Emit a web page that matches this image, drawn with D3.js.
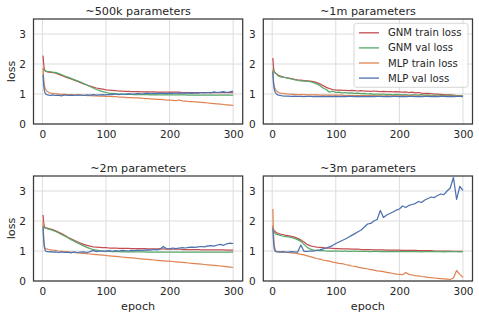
<!DOCTYPE html>
<html>
<head>
<meta charset="utf-8">
<script src="https://cdn.jsdelivr.net/npm/d3@7/dist/d3.min.js"></script>
<style>
    body { margin: 0; background: #fff; }
    text { font-family: "DejaVu Sans", sans-serif; fill: #262626; }
</style>
</head>
<body>
<svg id="chart" width="479" height="314"></svg>
<script>
const epochs = [1, 2, 3, 4, 5, 6, 8, 10, 13, 16, 20,
    25, 30, 35, 40, 45, 50, 55, 60,
    65, 70, 75, 80, 85, 90, 95, 100,
    105, 110, 115, 120, 125, 130, 135, 140,
    145, 150, 155, 160, 165, 170, 175, 180,
    185, 190, 195, 200, 205, 210, 215, 220,
    225, 230, 235, 240, 245, 250, 255, 260,
    265, 270, 275, 280, 285, 290, 295, 300];

const titles = ["~500k parameters", "~1m parameters", "~2m parameters", "~3m parameters"];
const seriesNames = ["GNM train loss", "GNM val loss", "MLP train loss", "MLP val loss"];
const xTicks = [0, 100, 200, 300];
const yTicks = [0, 1, 2, 3];

// ~500k
const gnmTrain500k = [2.28, 2.0, 1.82, 1.78, 1.76, 1.75, 1.74, 1.73, 1.72, 1.71, 1.70,
    1.66, 1.62, 1.58, 1.54, 1.50, 1.46, 1.42, 1.38,
    1.34, 1.30, 1.26, 1.23, 1.20, 1.18, 1.16, 1.14,
    1.13, 1.12, 1.11, 1.10, 1.10, 1.09, 1.09, 1.08,
    1.08, 1.08, 1.07, 1.07, 1.07, 1.07, 1.07, 1.06,
    1.06, 1.06, 1.06, 1.06, 1.06, 1.06, 1.06, 1.05,
    1.05, 1.05, 1.05, 1.05, 1.05, 1.05, 1.05, 1.05,
    1.05, 1.05, 1.05, 1.05, 1.05, 1.05, 1.05, 1.05];
const gnmVal500k = [1.85, 1.80, 1.79, 1.78, 1.77, 1.76, 1.75, 1.75, 1.74, 1.73, 1.72,
    1.69, 1.65, 1.60, 1.56, 1.52, 1.48, 1.44, 1.40,
    1.35, 1.30, 1.25, 1.20, 1.15, 1.11, 1.08, 1.05,
    1.03, 1.02, 1.01, 1.00, 1.00, 0.99, 0.99, 0.99,
    0.98, 0.98, 0.98, 0.98, 0.98, 0.97, 0.97, 0.97,
    0.97, 0.97, 0.97, 0.97, 0.97, 0.97, 0.97, 0.97,
    0.97, 0.96, 0.96, 0.96, 0.96, 0.96, 0.96, 0.96,
    0.96, 0.96, 0.96, 0.96, 0.96, 0.96, 0.96, 0.96];
const mlpTrain500k = [1.85, 1.50, 1.30, 1.20, 1.15, 1.12, 1.08, 1.05, 1.03, 1.02, 1.01,
    1.00, 0.99, 0.99, 0.98, 0.98, 0.97, 0.97, 0.96,
    0.96, 0.95, 0.95, 0.94, 0.94, 0.93, 0.93, 0.92,
    0.92, 0.91, 0.91, 0.90, 0.90, 0.89, 0.88, 0.88,
    0.87, 0.87, 0.86, 0.85, 0.85, 0.84, 0.83, 0.82,
    0.82, 0.81, 0.80, 0.80, 0.79, 0.78, 0.80, 0.77,
    0.76, 0.75, 0.75, 0.74, 0.73, 0.72, 0.71, 0.70,
    0.69, 0.68, 0.67, 0.66, 0.65, 0.64, 0.63, 0.62];
const mlpVal500k = [1.65, 1.30, 1.12, 1.05, 1.01, 0.99, 0.97, 0.96, 0.95, 0.97, 0.95,
    0.96, 0.94, 0.97, 0.95, 0.96, 0.95, 0.97, 0.96,
    0.95, 0.97, 0.96, 0.98, 0.96, 0.97, 0.98, 0.97,
    0.99, 0.98, 1.00, 0.98, 1.00, 0.99, 1.01, 1.00,
    1.00, 1.02, 1.00, 1.01, 1.03, 1.01, 1.02, 1.01,
    1.03, 1.02, 1.01, 1.03, 1.02, 1.04, 1.02, 1.03,
    1.03, 1.04, 1.02, 1.04, 1.03, 1.05, 1.04, 1.05,
    1.04, 1.07, 1.05, 1.06, 1.08, 1.05, 1.07, 1.10];

// ~1m
const gnmTrain1m = [2.20, 1.90, 1.76, 1.72, 1.70, 1.68, 1.65, 1.62, 1.60, 1.57, 1.55,
    1.53, 1.51, 1.49, 1.47, 1.46, 1.45, 1.44, 1.43,
    1.41, 1.38, 1.34, 1.28, 1.22, 1.18, 1.15, 1.13,
    1.13, 1.12, 1.12, 1.11, 1.12, 1.11, 1.10, 1.11,
    1.10, 1.10, 1.09, 1.10, 1.09, 1.08, 1.09, 1.08,
    1.08, 1.07, 1.08, 1.07, 1.06, 1.07, 1.05, 1.06,
    1.04, 1.05, 1.03, 1.02, 1.02, 1.01, 1.00, 1.00,
    0.99, 0.98, 0.97, 0.97, 0.96, 0.95, 0.94, 0.93];
const gnmVal1m = [1.85, 1.78, 1.74, 1.72, 1.70, 1.68, 1.64, 1.60, 1.57, 1.56, 1.55,
    1.53, 1.50, 1.48, 1.45, 1.44, 1.43, 1.42, 1.41,
    1.38, 1.34, 1.28, 1.20, 1.15, 1.06, 1.10, 1.05,
    1.06, 1.04, 1.05, 1.03, 1.04, 1.02, 1.03, 1.01,
    1.02, 1.00, 1.01, 0.99, 1.00, 0.99, 1.00, 0.98,
    0.99, 0.97, 0.99, 0.98, 0.97, 0.98, 0.96, 0.97,
    0.97, 0.96, 0.98, 0.96, 0.97, 0.95, 0.96, 0.97,
    0.95, 0.96, 0.95, 0.96, 0.95, 0.94, 0.95, 0.95];
const mlpTrain1m = [1.80, 1.45, 1.28, 1.20, 1.15, 1.12, 1.08, 1.05, 1.03, 1.02, 1.01,
    1.00, 0.99, 0.99, 0.98, 0.98, 0.98, 0.97, 0.97,
    0.97, 0.97, 0.96, 0.96, 0.96, 0.96, 0.96, 0.96,
    0.96, 0.96, 0.95, 0.95, 0.95, 0.95, 0.95, 0.95,
    0.95, 0.95, 0.95, 0.95, 0.94, 0.94, 0.94, 0.94,
    0.94, 0.94, 0.94, 0.94, 0.94, 0.94, 0.94, 0.94,
    0.93, 0.93, 0.93, 0.93, 0.93, 0.93, 0.93, 0.93,
    0.93, 0.93, 0.93, 0.93, 0.93, 0.93, 0.93, 0.93];
const mlpVal1m = [1.75, 1.35, 1.18, 1.10, 1.05, 1.02, 0.98, 0.96, 0.95, 0.94, 0.93,
    0.93, 0.92, 0.93, 0.92, 0.92, 0.91, 0.92, 0.92,
    0.91, 0.92, 0.91, 0.92, 0.91, 0.92, 0.91, 0.92,
    0.91, 0.92, 0.91, 0.92, 0.92, 0.91, 0.92, 0.91,
    0.92, 0.91, 0.92, 0.91, 0.92, 0.92, 0.91, 0.92,
    0.91, 0.92, 0.92, 0.91, 0.92, 0.91, 0.92, 0.92,
    0.91, 0.92, 0.91, 0.92, 0.92, 0.91, 0.92, 0.91,
    0.92, 0.92, 0.91, 0.92, 0.91, 0.92, 0.92, 0.91];

// ~2m
const gnmTrain2m = [2.20, 1.95, 1.82, 1.79, 1.78, 1.77, 1.76, 1.75, 1.73, 1.71, 1.68,
    1.63, 1.58, 1.52, 1.46, 1.41, 1.36, 1.31, 1.26,
    1.22, 1.19, 1.16, 1.14, 1.13, 1.12, 1.11, 1.11,
    1.10, 1.10, 1.10, 1.09, 1.09, 1.09, 1.09, 1.08,
    1.08, 1.08, 1.08, 1.08, 1.07, 1.07, 1.07, 1.07,
    1.07, 1.07, 1.06, 1.06, 1.06, 1.06, 1.06, 1.05,
    1.05, 1.05, 1.05, 1.05, 1.05, 1.04, 1.04, 1.04,
    1.04, 1.04, 1.04, 1.04, 1.04, 1.03, 1.03, 1.03];
const gnmVal2m = [1.85, 1.80, 1.78, 1.77, 1.76, 1.75, 1.74, 1.73, 1.71, 1.69, 1.66,
    1.61, 1.55, 1.50, 1.44, 1.38, 1.33, 1.27, 1.22,
    1.17, 1.12, 1.08, 1.05, 1.03, 1.01, 1.00, 0.99,
    0.99, 0.98, 0.98, 0.98, 0.97, 0.97, 0.97, 0.97,
    0.97, 0.97, 0.97, 0.97, 0.96, 0.96, 0.96, 0.96,
    0.96, 0.96, 0.96, 0.96, 0.96, 0.96, 0.96, 0.96,
    0.96, 0.96, 0.96, 0.96, 0.96, 0.96, 0.96, 0.96,
    0.96, 0.96, 0.96, 0.96, 0.96, 0.96, 0.96, 0.96];
const mlpTrain2m = [2.00, 1.40, 1.15, 1.10, 1.08, 1.07, 1.06, 1.05, 1.04, 1.03, 1.02,
    1.00, 0.99, 0.98, 0.97, 0.96, 0.95, 0.94, 0.93,
    0.92, 0.91, 0.90, 0.89, 0.88, 0.87, 0.86, 0.85,
    0.84, 0.83, 0.82, 0.81, 0.80, 0.79, 0.78, 0.77,
    0.76, 0.75, 0.74, 0.73, 0.72, 0.71, 0.70, 0.69,
    0.68, 0.67, 0.66, 0.66, 0.65, 0.64, 0.63, 0.62,
    0.61, 0.60, 0.59, 0.58, 0.57, 0.56, 0.55, 0.54,
    0.53, 0.52, 0.51, 0.50, 0.49, 0.48, 0.46, 0.45];
const mlpVal2m = [1.80, 1.40, 1.15, 1.05, 1.00, 0.99, 0.98, 0.97, 0.98, 0.96, 0.97,
    0.95, 0.97, 0.95, 0.96, 0.94, 0.97, 0.95, 0.96,
    0.97, 0.95, 0.98, 1.02, 0.98, 1.00, 0.99, 1.00,
    1.01, 0.99, 1.01, 1.00, 1.02, 1.01, 1.00, 1.02,
    1.01, 1.03, 1.02, 1.03, 1.04, 1.03, 1.05, 1.04,
    1.06, 1.15, 1.08, 1.07, 1.10, 1.08, 1.10, 1.11,
    1.10, 1.12, 1.13, 1.12, 1.14, 1.15, 1.14, 1.17,
    1.18, 1.16, 1.20, 1.22, 1.19, 1.24, 1.26, 1.25];

// ~3m
const gnmTrain3m = [1.85, 1.72, 1.68, 1.66, 1.64, 1.62, 1.60, 1.58, 1.56, 1.55, 1.53,
    1.51, 1.49, 1.46, 1.42, 1.37, 1.30, 1.22, 1.17,
    1.15, 1.13, 1.12, 1.11, 1.10, 1.10, 1.09, 1.08,
    1.08, 1.07, 1.07, 1.07, 1.06, 1.06, 1.06, 1.05,
    1.05, 1.05, 1.05, 1.04, 1.04, 1.04, 1.04, 1.03,
    1.03, 1.03, 1.03, 1.03, 1.02, 1.02, 1.02, 1.02,
    1.02, 1.01, 1.01, 1.01, 1.01, 1.01, 1.00, 1.00,
    1.00, 1.00, 1.00, 1.00, 0.99, 0.99, 0.99, 0.99];
const gnmVal3m = [1.80, 1.68, 1.62, 1.60, 1.58, 1.56, 1.55, 1.54, 1.52, 1.50, 1.49,
    1.47, 1.45, 1.42, 1.38, 1.32, 1.22, 1.12, 1.06,
    1.03, 1.02, 1.01, 1.01, 1.00, 1.00, 1.00, 1.00,
    1.00, 0.99, 1.00, 0.99, 0.99, 1.00, 0.99, 0.99,
    0.99, 0.99, 0.98, 0.99, 0.99, 0.98, 0.99, 0.98,
    0.98, 0.99, 0.98, 0.98, 0.98, 0.99, 0.98, 0.98,
    0.98, 0.98, 0.97, 0.98, 0.98, 0.98, 0.99, 0.98,
    0.98, 0.97, 0.98, 0.98, 0.98, 0.98, 0.97, 0.98];
const mlpTrain3m = [2.40, 1.60, 1.25, 1.10, 1.03, 1.00, 0.98, 0.97, 0.97, 0.96, 0.96,
    0.95, 0.94, 0.93, 0.91, 0.89, 0.87, 0.84, 0.81,
    0.78, 0.75, 0.73, 0.70, 0.68, 0.66, 0.63, 0.61,
    0.59, 0.58, 0.55, 0.53, 0.50, 0.49, 0.46, 0.44,
    0.42, 0.40, 0.38, 0.36, 0.34, 0.33, 0.31, 0.29,
    0.27, 0.25, 0.23, 0.22, 0.21, 0.28, 0.22, 0.20,
    0.18, 0.17, 0.15, 0.14, 0.12, 0.11, 0.10, 0.09,
    0.08, 0.07, 0.06, 0.05, 0.10, 0.35, 0.22, 0.12];
const mlpVal3m = [1.75, 1.35, 1.10, 1.02, 0.99, 0.98, 0.97, 0.97, 0.96, 0.98, 0.97,
    0.96, 0.98, 0.97, 0.96, 1.20, 0.99, 0.99, 1.00,
    1.00, 1.02, 1.04, 1.07, 1.10, 1.14, 1.18, 1.25,
    1.30, 1.35, 1.40, 1.46, 1.52, 1.58, 1.64, 1.70,
    1.80, 1.90, 1.92, 2.00, 2.05, 2.35, 2.12, 2.20,
    2.25, 2.30, 2.36, 2.40, 2.50, 2.45, 2.52, 2.55,
    2.58, 2.65, 2.62, 2.70, 2.75, 2.80, 2.78, 2.85,
    2.90, 2.88, 3.00, 3.10, 3.45, 2.72, 3.15, 3.02];

// seaborn "deep" colours, same order as seriesNames
const colors = ["#c44e52", "#55a868", "#dd8452", "#4c72b0"];

const panels = [
    {title: titles[0], series: [gnmTrain500k, gnmVal500k, mlpTrain500k, mlpVal500k]},
    {title: titles[1], series: [gnmTrain1m, gnmVal1m, mlpTrain1m, mlpVal1m]},
    {title: titles[2], series: [gnmTrain2m, gnmVal2m, mlpTrain2m, mlpVal2m]},
    {title: titles[3], series: [gnmTrain3m, gnmVal3m, mlpTrain3m, mlpVal3m]}
];

const svg = d3.select("#chart");
const colLeft = [33.5, 263.3];
const rowTop = [19, 176];
const plotW = 209.2, plotH = 105;

/**
 * Draw one subplot at the given grid position.
 */
function drawPanel(panel, i) {
    let col = i % 2, row = Math.floor(i / 2);
    let g = svg.append("g")
        .attr("transform", "translate(" + colLeft[col] + "," + rowTop[row] + ")");

    let x = d3.scaleLinear().domain([-14, 315]).range([0, plotW]);
    let y = d3.scaleLinear().domain([0, 3.5]).range([plotH, 0]);

    // grid
    g.append("g").selectAll("line").data(xTicks).join("line")
        .attr("x1", d => x(d)).attr("x2", d => x(d))
        .attr("y1", 0).attr("y2", plotH)
        .attr("stroke", "#dcdcdc").attr("stroke-width", 1);
    g.append("g").selectAll("line").data(yTicks).join("line")
        .attr("x1", 0).attr("x2", plotW)
        .attr("y1", d => y(d)).attr("y2", d => y(d))
        .attr("stroke", "#dcdcdc").attr("stroke-width", 1);

    let clipId = "clip" + i;
    g.append("clipPath").attr("id", clipId)
        .append("rect").attr("width", plotW).attr("height", plotH);

    let line = d3.line().x((d, k) => x(epochs[k])).y(d => y(d));
    g.append("g").attr("clip-path", "url(#" + clipId + ")")
        .selectAll("path").data(panel.series).join("path")
        .attr("d", line)
        .attr("fill", "none")
        .attr("stroke", (d, k) => colors[k])
        .attr("stroke-width", 1.25)
        .attr("stroke-linejoin", "round");

    // axes (labels only, no tick marks)
    let xAxis = g.append("g").attr("transform", "translate(0," + plotH + ")")
        .call(d3.axisBottom(x).tickValues(xTicks).tickSize(0).tickPadding(7));
    let yAxis = g.append("g")
        .call(d3.axisLeft(y).tickValues(yTicks).tickSize(0).tickPadding(7.5).tickFormat(d3.format("d")));
    [xAxis, yAxis].forEach(a => {
        a.select(".domain").remove();
        a.selectAll("text").style("font-size", "10.5px").style("font-family", "DejaVu Sans").attr("fill", "#262626");
    });

    // spines
    g.append("rect").attr("width", plotW).attr("height", plotH)
        .attr("fill", "none").attr("stroke", "#3a3a3a").attr("stroke-width", 1.25);

    g.append("text")
        .attr("x", plotW / 2).attr("y", -4.5)
        .attr("text-anchor", "middle")
        .style("font-size", "11.2px")
        .text(panel.title);

    if (col === 0) {
        g.append("text")
            .attr("transform", "translate(" + (10.7 - colLeft[0]) + "," + (plotH / 2) + ") rotate(-90)")
            .attr("text-anchor", "middle")
            .attr("dy", "0.35em")
            .style("font-size", "11.2px")
            .text("loss");
    }
    if (row === 1) {
        g.append("text")
            .attr("x", plotW / 2).attr("y", plotH + 29)
            .attr("text-anchor", "middle")
            .style("font-size", "11.2px")
            .text("epoch");
    }
    return g;
}

panels.forEach((p, i) => drawPanel(p, i));

// legend in the top right subplot
let legend = svg.append("g").attr("transform", "translate(354,23.3)");
legend.append("rect")
    .attr("width", 114).attr("height", 64).attr("rx", 2.5)
    .attr("fill", "#fff").attr("fill-opacity", 0.8)
    .attr("stroke", "#cccccc").attr("stroke-width", 0.8);
let item = legend.selectAll("g.item").data(seriesNames).join("g")
    .attr("class", "item")
    .attr("transform", (d, k) => "translate(0," + (9.5 + k * 15.1) + ")");
item.append("line")
    .attr("x1", 5).attr("x2", 25)
    .attr("stroke", (d, k) => colors[k]).attr("stroke-width", 1.3);
item.append("text")
    .attr("x", 34).attr("dy", "0.35em")
    .style("font-size", "10.1px")
    .text(d => d);
</script>
</body>
</html>
